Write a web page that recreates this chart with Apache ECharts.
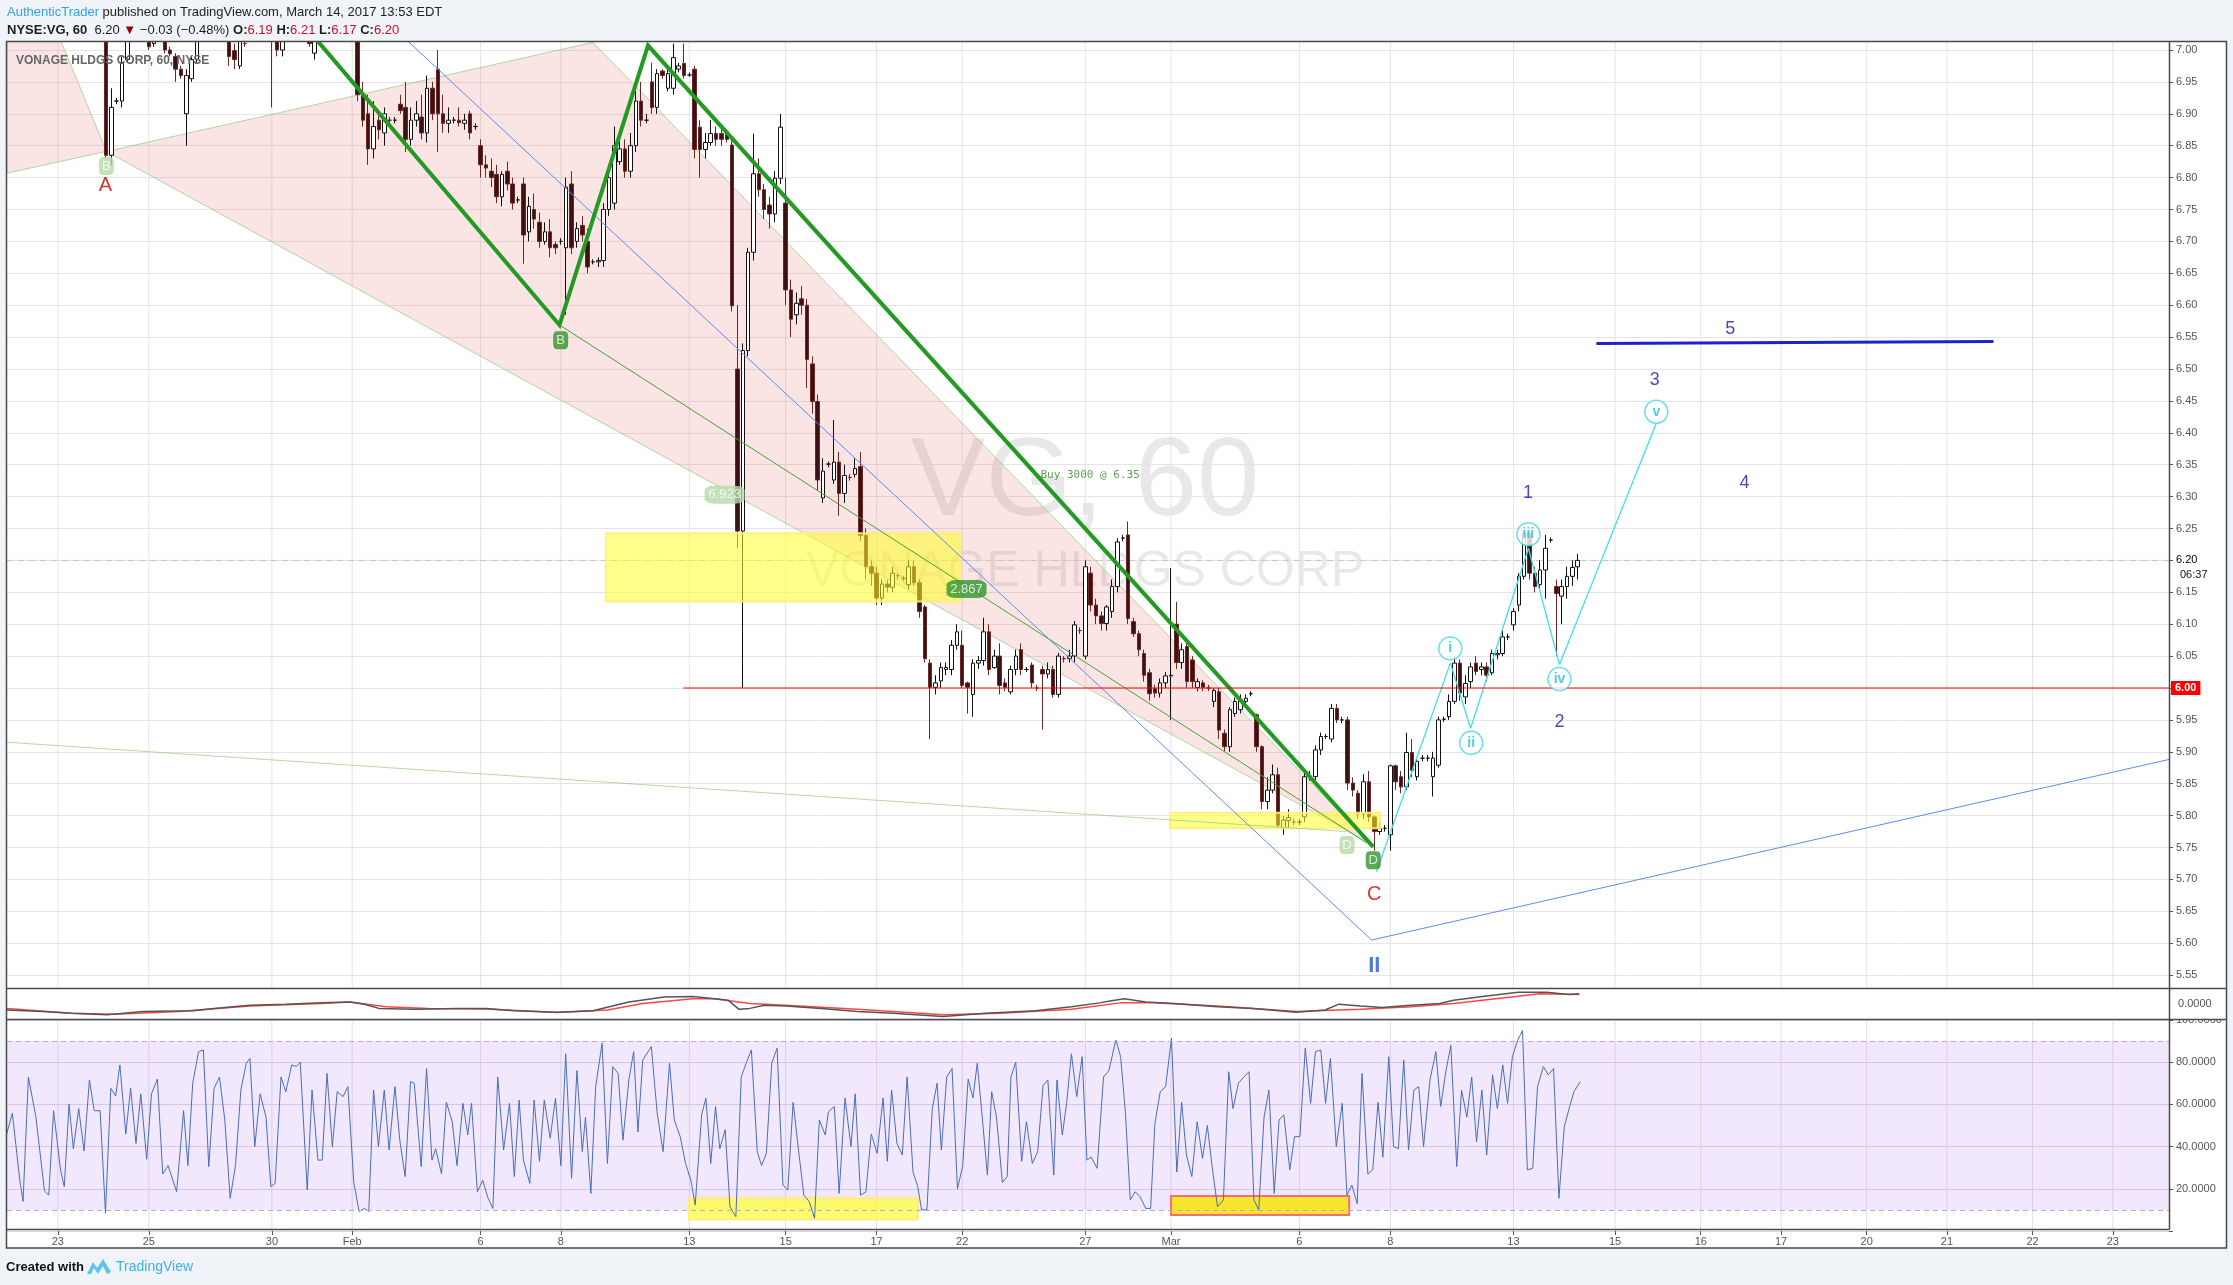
<!DOCTYPE html>
<html>
<head>
<meta charset="utf-8">
<script src="https://cdn.jsdelivr.net/npm/echarts@6/dist/echarts.min.js"></script>
<style>
  html, body { margin: 0; padding: 0; background: #f0f3f7; }
  #chart { width: 2233px; height: 1285px; }
</style>
</head>
<body>
<div id="chart"></div>
<script>
// hourly bars, 8 per session; index 0 = last bar of Jan 19
// [open, close, low, high]
const ohlc = [
  [7.08,7.09,7.06,7.11],
  // Jan 20
  [7.09,7.07,7.05,7.10],[7.07,7.10,7.06,7.12],[7.10,7.11,7.08,7.13],[7.11,7.08,7.07,7.12],
  [7.08,7.09,7.06,7.10],[7.09,7.11,7.07,7.12],[7.11,7.12,7.09,7.14],[7.12,7.10,7.08,7.15],
  // Jan 23
  [7.10,7.11,7.08,7.13],[7.11,7.09,7.07,7.12],[7.09,7.10,7.08,7.12],[7.10,7.08,7.06,7.11],
  [7.08,7.09,7.06,7.10],[7.09,7.10,7.07,7.12],[7.10,7.08,7.06,7.11],[7.08,7.09,7.06,7.10],
  // Jan 24
  [7.09,7.07,7.05,7.10],[7.07,6.835,6.83,7.08],[6.835,6.91,6.82,6.94],[6.92,6.92,6.915,6.925],
  [6.92,6.98,6.91,6.99],[6.985,7.03,6.98,7.04],[7.03,7.05,7.02,7.06],[7.05,7.06,7.03,7.08],
  // Jan 25
  [7.06,7.04,7.03,7.07],[7.04,7.005,7.00,7.05],[7.01,7.04,7.005,7.05],[7.04,7.05,7.03,7.07],
  [7.05,7.00,6.995,7.06],[7.00,6.994,6.99,7.005],[6.99,6.97,6.95,6.995],[6.97,6.96,6.955,6.975],
  // Jan 26
  [6.90,6.96,6.85,6.97],[6.955,6.985,6.95,6.99],[6.985,7.02,6.98,7.03],[7.02,7.04,7.015,7.06],
  [7.04,7.06,7.03,7.08],[7.06,7.05,7.03,7.07],[7.05,7.07,7.04,7.08],[7.07,7.04,7.03,7.08],
  // Jan 27
  [7.04,6.99,6.975,7.05],[6.999,6.985,6.97,7.01],[6.975,7.02,6.97,7.03],[7.01,7.01,7.005,7.015],
  [7.02,7.04,7.015,7.05],[7.04,7.05,7.03,7.07],[7.05,7.03,7.02,7.06],[7.03,7.05,7.025,7.06],
  // Jan 30
  [7.05,7.04,6.91,7.06],[7.04,7.00,6.99,7.045],[7.00,7.03,6.99,7.04],[7.03,7.05,7.02,7.07],
  [7.05,7.06,7.04,7.08],[7.06,7.04,7.03,7.07],[7.04,7.03,7.02,7.05],[7.03,7.01,7.005,7.04],
  // Jan 31
  [6.995,7.03,6.985,7.04],[7.03,7.05,7.02,7.06],[7.05,7.07,7.04,7.08],[7.07,7.06,7.05,7.09],
  [7.06,7.08,7.05,7.10],[7.08,7.07,7.05,7.09],[7.07,7.08,7.06,7.10],[7.08,7.07,7.05,7.09],
  // Feb 1
  [7.07,6.93,6.92,7.08],[6.93,6.89,6.88,6.95],[6.90,6.845,6.82,6.93],[6.845,6.88,6.83,6.92],
  [6.89,6.875,6.86,6.90],[6.87,6.90,6.85,6.91],[6.89,6.89,6.885,6.895],[6.89,6.89,6.885,6.895],
  // Feb 2
  [6.915,6.905,6.90,6.93],[6.91,6.86,6.84,6.95],[6.86,6.89,6.85,6.91],[6.89,6.90,6.88,6.92],
  [6.895,6.87,6.86,6.93],[6.87,6.94,6.855,6.96],[6.94,6.90,6.89,6.95],[6.97,6.90,6.84,7.00],
  // Feb 3
  [6.90,6.885,6.87,6.93],[6.885,6.89,6.87,6.91],[6.89,6.89,6.885,6.895],[6.89,6.886,6.88,6.91],
  [6.885,6.89,6.875,6.90],[6.90,6.87,6.86,6.905],[6.88,6.88,6.875,6.885],[6.85,6.82,6.80,6.86],
  // Feb 6
  [6.82,6.815,6.80,6.835],[6.81,6.80,6.785,6.83],[6.805,6.77,6.76,6.82],[6.77,6.805,6.755,6.81],
  [6.81,6.79,6.78,6.825],[6.79,6.76,6.75,6.80],[6.765,6.765,6.76,6.77],[6.79,6.71,6.665,6.80],
  // Feb 7
  [6.715,6.755,6.70,6.77],[6.75,6.735,6.72,6.775],[6.73,6.70,6.69,6.745],[6.70,6.715,6.695,6.73],
  [6.715,6.69,6.675,6.735],[6.695,6.69,6.68,6.70],[6.70,6.70,6.695,6.705],[6.69,6.785,6.585,6.80],
  // Feb 8
  [6.79,6.69,6.68,6.81],[6.70,6.72,6.69,6.73],[6.725,6.71,6.70,6.74],[6.70,6.66,6.65,6.72],
  [6.668,6.668,6.664,6.672],[6.668,6.67,6.66,6.675],[6.67,6.75,6.66,6.76],[6.75,6.80,6.74,6.81],
  // Feb 9
  [6.76,6.85,6.75,6.88],[6.825,6.845,6.82,6.87],[6.845,6.81,6.80,6.86],[6.81,6.85,6.80,6.87],
  [6.85,6.92,6.84,6.94],[6.92,6.89,6.88,6.95],[6.89,6.89,6.885,6.90],[6.95,6.91,6.90,6.98],
  // Feb 10
  [6.91,6.963,6.90,6.97],[6.967,6.96,6.955,6.97],[6.94,6.963,6.935,6.97],[6.94,6.988,6.93,7.01],
  [6.97,6.975,6.965,6.98],[6.979,6.96,6.955,7.01],[6.961,6.961,6.958,6.965],[6.97,6.844,6.83,6.975],
  // Feb 13
  [6.879,6.844,6.80,6.89],[6.844,6.855,6.83,6.87],[6.855,6.869,6.85,6.89],[6.869,6.86,6.85,6.88],
  [6.869,6.86,6.85,6.88],[6.872,6.86,6.855,6.875],[6.851,6.599,6.59,6.86],[6.50,6.246,6.22,6.60],
  // Feb 14
  [6.246,6.529,6.00,6.54],[6.529,6.683,6.52,6.69],[6.683,6.806,6.67,6.869],[6.806,6.781,6.77,6.83],
  [6.781,6.75,6.735,6.79],[6.757,6.743,6.72,6.77],[6.743,6.799,6.73,6.81],[6.799,6.879,6.79,6.90],
  // Feb 15
  [6.76,6.624,6.60,6.80],[6.624,6.578,6.55,6.64],[6.585,6.603,6.57,6.62],[6.61,6.60,6.585,6.63],
  [6.60,6.515,6.47,6.61],[6.508,6.449,6.43,6.52],[6.449,6.326,6.31,6.46],[6.298,6.34,6.29,6.36],
  // Feb 16
  [6.351,6.351,6.346,6.355],[6.326,6.354,6.32,6.42],[6.354,6.305,6.27,6.37],[6.305,6.333,6.29,6.35],
  [6.33,6.33,6.325,6.335],[6.335,6.344,6.33,6.36],[6.347,6.239,6.23,6.37],[6.239,6.19,6.17,6.25],
  // Feb 17
  [6.19,6.18,6.16,6.20],[6.18,6.141,6.13,6.19],[6.141,6.163,6.13,6.17],[6.163,6.158,6.15,6.17],
  [6.158,6.18,6.15,6.19],[6.176,6.176,6.17,6.18],[6.172,6.172,6.168,6.176],[6.162,6.19,6.155,6.20],
  // Feb 21
  [6.19,6.165,6.16,6.20],[6.165,6.12,6.11,6.17],[6.127,6.046,6.04,6.13],[6.039,6.001,5.92,6.045],
  [6.001,6.008,5.99,6.02],[6.011,6.032,6.00,6.04],[6.029,6.032,6.02,6.04],[6.029,6.067,6.02,6.075],
  // Feb 22
  [6.067,6.088,6.06,6.10],[6.067,6.004,6.00,6.09],[6.008,6.001,5.96,6.01],[5.99,6.039,5.955,6.045],
  [6.039,6.043,6.03,6.05],[6.043,6.088,6.035,6.11],[6.088,6.029,6.02,6.10],[6.032,6.05,6.03,6.06],
  // Feb 23
  [6.05,6.004,5.99,6.07],[6.008,6.001,5.995,6.015],[5.994,6.029,5.99,6.035],[6.029,6.05,6.02,6.06],
  [6.06,6.029,6.02,6.07],[6.029,6.029,6.025,6.033],[6.036,6.008,6.00,6.04],[6.0,6.0,5.995,6.005],
  // Feb 24
  [6.029,6.022,5.935,6.035],[6.022,6.029,6.015,6.04],[6.029,5.99,5.985,6.035],[5.99,6.05,5.985,6.055],
  [6.046,6.046,6.04,6.05],[6.046,6.05,6.04,6.06],[6.05,6.099,6.04,6.105],[6.09,6.09,6.085,6.095],
  // Feb 27
  [6.05,6.19,6.045,6.20],[6.18,6.13,6.12,6.19],[6.13,6.113,6.10,6.14],[6.113,6.101,6.09,6.12],
  [6.101,6.127,6.09,6.13],[6.12,6.159,6.11,6.17],[6.159,6.229,6.15,6.235],[6.235,6.235,6.23,6.24],
  // Feb 28
  [6.24,6.109,6.10,6.261],[6.104,6.085,6.08,6.11],[6.085,6.06,6.05,6.09],[6.054,6.02,6.01,6.06],
  [6.024,5.991,5.98,6.03],[5.999,5.992,5.985,6.005],[5.992,6.008,5.985,6.015],[6.008,6.019,6.0,6.025],
  // Mar 1
  [6.019,6.02,5.95,6.188],[6.10,6.04,6.03,6.135],[6.04,6.06,6.03,6.07],[6.065,6.01,6.0,6.07],
  [6.044,6.01,6.0,6.05],[6.001,6.01,5.995,6.015],[6.008,6.001,5.995,6.012],[6.0,6.0,5.995,6.005],
  // Mar 2
  [5.979,5.996,5.97,6.0],[5.994,5.934,5.92,6.0],[5.929,5.908,5.90,5.935],[5.908,5.966,5.90,5.97],
  [5.96,5.979,5.955,5.985],[5.966,5.981,5.96,5.99],[5.979,5.984,5.975,5.99],[5.991,5.991,5.987,5.995],
  // Mar 3
  [5.958,5.908,5.90,5.96],[5.908,5.822,5.81,5.91],[5.822,5.84,5.81,5.86],[5.84,5.864,5.835,5.88],
  [5.864,5.785,5.78,5.875],[5.78,5.793,5.77,5.80],[5.792,5.797,5.78,5.81],[5.79,5.79,5.785,5.795],
  // Mar 6
  [5.79,5.79,5.785,5.795],[5.798,5.861,5.79,5.87],[5.861,5.862,5.855,5.87],[5.861,5.903,5.855,5.91],
  [5.903,5.924,5.895,5.93],[5.924,5.924,5.92,5.928],[5.92,5.968,5.915,5.975],[5.968,5.95,5.945,5.975],
  // Mar 7
  [5.95,5.95,5.945,5.955],[5.95,5.851,5.84,5.955],[5.851,5.84,5.83,5.86],[5.835,5.803,5.795,5.84],
  [5.803,5.853,5.795,5.865],[5.853,5.798,5.79,5.87],[5.798,5.775,5.745,5.80],[5.775,5.78,5.77,5.79],
  // Mar 8
  [5.78,5.78,5.775,5.785],[5.77,5.878,5.745,5.88],[5.878,5.853,5.84,5.88],[5.861,5.845,5.835,5.87],
  [5.845,5.899,5.84,5.93],[5.899,5.871,5.86,5.92],[5.861,5.885,5.855,5.89],[5.89,5.89,5.885,5.895],
  // Mar 9
  [5.89,5.89,5.885,5.895],[5.861,5.89,5.83,5.90],[5.879,5.95,5.875,5.955],[5.951,5.951,5.947,5.955],
  [5.955,5.979,5.95,5.99],[5.979,6.039,5.975,6.05],[6.039,5.992,5.98,6.045],[5.986,6.007,5.975,6.02],
  // Mar 10
  [6.01,6.033,6.0,6.04],[6.039,6.026,6.02,6.05],[6.029,6.033,6.02,6.04],[6.033,6.02,6.01,6.04],
  [6.024,6.054,6.02,6.06],[6.052,6.054,6.045,6.06],[6.054,6.08,6.05,6.09],[6.08,6.08,6.075,6.085],
  // Mar 13
  [6.099,6.12,6.09,6.125],[6.13,6.175,6.12,6.18],[6.175,6.242,6.17,6.245],[6.242,6.18,6.17,6.245],
  [6.18,6.159,6.15,6.19],[6.162,6.185,6.155,6.20],[6.185,6.219,6.14,6.24],[6.232,6.232,6.228,6.236],
  // Mar 14
  [6.159,6.148,6.05,6.17],[6.144,6.159,6.10,6.17],[6.159,6.175,6.14,6.19],[6.175,6.189,6.16,6.20],
  [6.19,6.20,6.17,6.21]
];

// date axis labels [bar index, text]
const dayLabels = [[9,'23'],[26,'25'],[49,'30'],[64,'Feb'],[88,'6'],[103,'8'],[127,'13'],[145,'15'],
  [162,'17'],[178,'22'],[201,'27'],[217,'Mar'],[241,'6'],[258,'8'],[281,'13'],[300,'15'],[316,'16'],
  [331,'17'],[347,'20'],[362,'21'],[378,'22'],[393,'23']];

// TSI (25,13,13) and its signal, [bar index, value]
const tsiLine = [[-0.5,-13.4],[6.2,-16.7],[11.5,-20.1],[18.2,-23.4],[24.9,-16.7],[34.2,-14.8],[38.2,-10.1],
  [44.9,-3.4],[51.6,-1.4],[58.3,1.3],[63.6,3.3],[66.3,-1.4],[69.0,-10.1],[75.6,-12.1],[83.6,-10.1],
  [89.0,-10.1],[94.3,-14.8],[102.3,-18.1],[109.0,-14.8],[115.7,3.3],[122.3,13.3],[127.7,14.6],
  [131.7,9.9],[134.3,6.6],[136.3,-12.1],[138.3,-10.1],[141.0,-3.4],[145.0,-5.4],[151.7,-10.1],
  [158.4,-16.7],[165.0,-20.1],[174.4,-26.8],[182.4,-20.1],[191.7,-14.8],[198.4,-6.8],[203.7,1.3],
  [205.6,5.2],[208.3,9.9],[212.3,3.3],[217.6,0],[225.7,-6.8],[232.4,-10.1],[240.4,-18.1],[245.8,-13.4],
  [248.4,-1.4],[252.4,-5.4],[256.5,-8.1],[261.8,-3.4],[267.2,0],[269.8,6.6],[275.2,14.6],[281.9,23.3],
  [287.2,23.3],[291.3,18.6],[293.3,19.9]];
const tsiSignal = [[-0.5,-10.1],[11.5,-20.1],[19.5,-22.1],[31.6,-16.7],[44.9,-5.4],[58.3,0],[63.6,3.3],
  [70.3,-6.8],[78.3,-10.1],[89.0,-11.4],[102.3,-18.8],[111.7,-13.4],[118.3,0],[127.7,9.9],[131.7,9.9],
  [138.3,0],[145.0,-3.4],[158.4,-12.1],[174.4,-23.4],[185.1,-20.1],[198.4,-12.1],[207.5,1.3],
  [213.6,1.3],[225.7,-5.4],[240.4,-16.7],[252.4,-12.1],[261.8,-6.8],[269.8,0],[280.6,13.3],
  [285.9,19.9],[293.3,18.6]];

// CRSI (3,2,100), [bar index, value]
const crsi = [[-0.7,44.7],[0.5,55.8],[1.9,24],[2.5,14],[3.5,73],[4.9,54],[6.5,19],[7.3,17],[8.2,57],[9.5,29],
  [10.2,21],[11.1,60],[11.9,39],[12.9,58],[13.9,38],[14.9,71.6],[15.8,57],[16.9,57],[17.9,8.4],[18.9,67.6],
  [19.8,64],[20.6,78.7],[21.7,46],[22.6,67.6],[23.6,41.5],[24.5,65],[25.6,34],[26.5,65],[27.6,72],[28.6,27],
  [29.6,31],[31.2,18.6],[32.5,57],[33.3,31],[34.2,70],[35.3,85],[36.2,85.8],[37.2,30.5],[38.2,67.6],[39.2,73],
  [40.2,52.6],[41.2,15.5],[42.2,31],[43.2,66.8],[44.2,79.5],[44.9,81.8],[45.8,40],[46.8,65],[47.9,54],[48.8,21],
  [49.6,22.6],[50.7,73],[51.6,66],[52.7,78.7],[53.6,78],[54.3,80],[55.6,19.4],[56.5,66.8],[57.6,33.6],[58.4,33.6],
  [59.3,74.7],[60.3,40],[61.2,66],[62.3,63.7],[63.2,68.4],[64.3,23],[65.3,9.2],[66.3,10.7],[67.1,9.2],[68.0,66.8],
  [68.9,40],[70.0,66.8],[70.9,38.4],[72.0,68.4],[72.9,43],[73.9,25.8],[74.9,70.8],[75.6,70],[76.9,30.5],[77.9,77],
  [78.9,33.6],[79.6,39],[80.7,27],[81.6,61],[82.7,51.8],[83.6,31],[84.7,60.5],[85.6,45.5],[86.3,60.5],[87.4,18.6],
  [88.4,24],[89.4,15.5],[90.3,10.7],[91.2,73],[92.3,38.4],[93.4,60.5],[94.3,25.8],[95.2,62],[96.0,33.6],[97.2,22.6],
  [98.0,62],[99.0,33],[99.9,62],[101.0,44],[102.0,63],[103.0,31],[103.9,84],[105.0,25],[106.0,76],[107.0,37.6],
  [107.6,54],[108.6,17.8],[109.5,68.4],[110.7,89],[111.7,32],[112.7,77.9],[113.7,74.7],[114.6,43],[115.7,71.6],
  [116.6,85],[117.4,47],[118.3,81],[119.9,87.4],[121.0,55.8],[122.1,37.6],[123.3,79.5],[124.2,52.6],[125.3,44.7],
  [126.3,32],[127.3,24],[128.1,12.3],[129.3,55],[130.1,63],[131.0,32],[131.9,59],[132.7,39],[133.7,48],[134.6,11.5],
  [135.7,6.8],[136.7,73],[137.7,80],[138.6,85.8],[139.7,37.6],[140.5,31],[141.4,36.8],[142.4,79.5],[143.4,86.6],
  [144.5,21.8],[145.4,19.4],[146.4,61],[147.4,38.4],[148.4,17],[149.4,14],[150.4,6],[151.3,52.6],[152.4,45.5],
  [153.0,56.5],[154.1,59],[155.0,17.8],[156.1,63],[157.2,40],[158.0,65],[159.0,17],[160.0,18.6],[161.0,46],
  [162.1,36.8],[163.2,63],[164.0,33],[164.8,66.8],[165.8,41.5],[166.8,36],[167.7,73],[168.8,28],[169.7,21],
  [170.4,10],[171.4,10],[172.4,58],[173.3,70],[174.1,38.4],[175.1,73],[176.1,77],[177.1,20],[178.1,31],[179.1,72],
  [180.0,63],[180.8,79.5],[181.7,55],[182.7,26.5],[183.5,66],[184.4,54],[185.5,23],[186.4,25.8],[187.1,73],
  [188.0,80],[189.1,33],[190.0,51.8],[191.1,32],[192.1,37.6],[193.1,69],[194.0,71.6],[195.1,26.5],[195.7,71.6],
  [196.7,45.5],[197.5,60.5],[198.4,84],[199.4,63.7],[200.4,82.6],[201.3,33.6],[202.1,35],[203.2,29.7],[204.4,73],
  [205.4,76],[206.7,90.5],[207.6,82.6],[208.5,55.8],[209.4,14.7],[210.3,18.6],[211.2,16.3],[212.3,10.7],
  [213.2,10.7],[214.0,51],[215.0,66],[216.0,68.4],[217.1,91.3],[218.1,28],[219.0,61],[219.9,36],[220.9,25.8],
  [221.9,51.8],[222.9,34.4],[223.8,50],[224.7,30.5],[225.7,11.5],[226.8,14.7],[227.8,75.5],[228.6,58],[229.6,70],
  [230.6,73],[231.6,75.5],[232.5,14.7],[233.4,10],[234.4,54],[235.3,66.8],[236.3,17.8],[237.2,52.6],[238.1,55],
  [239.2,29],[240.1,44.7],[241.1,44.7],[242.1,86.6],[243.1,60.5],[244.0,85],[245.0,85.8],[245.9,60.5],[246.8,81.8],
  [247.9,40],[249.0,60.5],[249.9,17],[250.8,21.8],[251.8,13],[252.7,74.7],[253.8,27],[254.7,29],[255.7,61],
  [256.6,35],[257.7,82.6],[258.6,40],[259.5,39],[260.5,81],[261.4,38.4],[262.4,66.8],[263.3,68.4],[264.2,40],
  [265.4,71.6],[266.5,85],[267.4,59],[268.4,76],[269.3,88],[270.4,30.5],[271.3,66.8],[272.3,54],[273.2,73],
  [274.1,42.3],[275.1,66.8],[276.0,36],[277.1,74],[278.0,58],[279.0,78.7],[279.9,60.5],[280.8,82.6],[281.8,90.5],
  [282.7,95],[283.6,29],[284.6,29.7],[285.5,68.4],[286.6,77.9],[287.5,74],[288.5,77],[289.5,15.5],[290.5,49.4],
  [291.4,58],[292.3,66],[293.5,70.8]];

// drawings on the price pane, [bar index, price]
const pinkTriangles = [
  [[-0.5, 7.014], [9.6, 7.014], [18.07, 6.841], [-0.5, 6.807]],
  [[18.07, 6.841], [109.0, 7.012], [254.0, 5.758]]
];
const yellowZones = [[111.4, 177.6, 6.1355, 6.2425], [216.8, 256.1, 5.780, 5.8045]];
const greenZigzag = [[53.9, 7.05], [102.74, 6.569], [119.28, 7.007], [254.8, 5.751]];
const blueV = [[69.8, 7.05], [254.5, 5.605], [403.5, 5.888]];
const greenThin = [[102.74, 6.569], [253.6, 5.757]];
const greenFaint = [[-0.5, 5.915], [249.8, 5.775]];
const cyanWave = [[255.4, 5.712], [269.2, 6.039], [273.0, 5.937], [283.8, 6.219], [289.6, 6.037], [307.7, 6.415]];
const wave5Line = [[296.5, 6.540], [370.7, 6.543]];
const levelLine = [[125.9, 6.00], [403.5, 6.00]];
const lastPriceLine = [[-0.5, 6.20], [403.5, 6.20]];
const waveDigits = [['1', 283.7, 6.306], ['2', 289.6, 5.946], ['3', 307.4, 6.482], ['4', 324.2, 6.321], ['5', 321.5, 6.563]];
const romanWaves = [['i', 269.2, 6.062], ['ii', 273.1, 5.914], ['iii', 283.8, 6.241], ['iv', 289.6, 6.014], ['v', 307.7, 6.433]];
const redLetters = [['A', 17.9, 6.788], ['C', 255.0, 5.676]];
const badges = [['B', 18.07, 6.818, 'light'], ['D', 249.9, 5.754, 'light'], ['B', 102.96, 6.545, 'dark'],
  ['D', 254.8, 5.730, 'dark'], ['6.923', 133.6, 6.303, 'light'], ['2.867', 178.8, 6.155, 'dark']];
const crsiZones = [[126.9, 169.7, 5.5, 15.5, 'soft'], [217.0, 250.3, 7.6, 16.6, 'boxed']];

const N = 404;
const FONT = "'Liberation Sans', Arial, sans-serif";
const cats = Array.from({length: N}, (_, i) => String(i));
const labelAt = {};
dayLabels.forEach(d => { labelAt[d[0]] = d[1]; });
const showLabel = (i) => labelAt[i] !== undefined;

function vline(color) {
  return function (params, api) {
    const x = api.coord([api.value(0), api.value(1)])[0];
    const cs = params.coordSys;
    return {type: 'line', shape: {x1: x, y1: cs.y, x2: x, y2: cs.y + cs.height},
      style: {stroke: color, lineWidth: 1}};
  };
}

function lineSeries(pts, color, width, extra) {
  return Object.assign({
    type: 'line', xAxisIndex: 1, yAxisIndex: 0, data: pts, symbol: 'none', silent: true, z: 4,
    lineStyle: {color: color, width: width}
  }, extra || {});
}

function rectRender(list, styleFn) {
  return function (params, api) {
    const r = list[params.dataIndex];
    const a = api.coord([r[0], r[3]]);
    const b = api.coord([r[1], r[2]]);
    return {type: 'rect', shape: {x: a[0], y: a[1], width: b[0] - a[0], height: b[1] - a[1]},
      style: styleFn(r)};
  };
}

const chart = echarts.init(document.getElementById('chart'));

const option = {
  backgroundColor: '#f0f3f7',
  animation: false,
  grid: [
    {left: 7, top: 18.1, width: 2162, height: 988.9},
    {left: 7, top: 988, width: 2162, height: 31},
    {left: 7, top: 1020, width: 2162, height: 211}
  ],
  xAxis: [
    {type: 'category', gridIndex: 0, data: cats, show: false, boundaryGap: true},
    {type: 'value', gridIndex: 0, min: -0.5, max: N - 0.5, show: false},
    {type: 'value', gridIndex: 1, min: -0.5, max: N - 0.5, show: false},
    {type: 'value', gridIndex: 2, min: -0.5, max: N - 0.5, show: false, position: 'top'},
    {type: 'category', gridIndex: 2, data: cats, position: 'bottom', boundaryGap: true,
      axisLine: {show: false, onZero: false},
      axisTick: {show: true, interval: showLabel, alignWithLabel: true, length: 4, lineStyle: {color: '#555'}},
      axisLabel: {interval: showLabel, formatter: (v, i) => labelAt[i] || '', margin: 5,
        color: '#555', fontSize: 11, fontFamily: FONT},
      splitLine: {show: false}}
  ],
  yAxis: [
    {type: 'value', gridIndex: 0, position: 'right', min: 5.5, max: 7.05, interval: 0.05,
      axisLine: {show: true, onZero: false, lineStyle: {color: '#555'}},
      axisTick: {show: true, length: 4, lineStyle: {color: '#555'}},
      axisLabel: {margin: 7, fontSize: 11, fontFamily: FONT,
        color: v => Math.abs(v - 6.2) < 1e-6 ? '#000' : '#555',
        formatter: v => (v < 5.52 || v > 7.02) ? '' : v.toFixed(2)},
      splitLine: {lineStyle: {color: '#e4e4e4'}}},
    {type: 'value', gridIndex: 1, position: 'right', min: -32, max: 32, interval: 32, z: 9,
      axisLine: {show: false, onZero: false}, axisTick: {show: false},
      axisLabel: {margin: 9, fontSize: 11, fontFamily: FONT, color: '#555',
        formatter: v => v === 0 ? '0.0000' : ''},
      splitLine: {show: false}},
    {type: 'value', gridIndex: 2, position: 'right', min: 0, max: 100, interval: 20,
      axisLine: {show: false, onZero: false},
      axisTick: {show: true, length: 4, lineStyle: {color: '#555'}},
      axisLabel: {margin: 7, fontSize: 11, fontFamily: FONT, color: '#555',
        formatter: v => v === 0 ? '' : v.toFixed(4)},
      splitLine: {lineStyle: {color: '#ddd2e6'}}}
  ],
  series: [
    // vertical grid, price pane
    {type: 'custom', xAxisIndex: 1, yAxisIndex: 0, z: 0.5, silent: true,
      data: dayLabels.map(d => [d[0], 6.5]), renderItem: vline('#e4e4e4')},
    // pink pattern triangles
    {type: 'custom', xAxisIndex: 1, yAxisIndex: 0, z: 1, silent: true,
      data: pinkTriangles.map(t => t[0]),
      renderItem: function (params, api) {
        const pts = pinkTriangles[params.dataIndex].map(p => api.coord(p));
        return {type: 'polygon', shape: {points: pts},
          style: {fill: 'rgba(228,120,120,0.2)', stroke: 'rgba(130,195,110,0.6)', lineWidth: 1}};
      }},
    lineSeries(lastPriceLine, '#c4c4c4', 1, {z: 1.8, lineStyle: {color: '#c4c4c4', width: 1, type: [6, 5]},
      endLabel: {show: true, formatter: '06:37', color: '#111', fontSize: 11, fontFamily: FONT,
        offset: [3, 15], backgroundColor: '#fff'}}),
    {type: 'candlestick', xAxisIndex: 0, yAxisIndex: 0, z: 2, silent: true, barWidth: 4,
      data: ohlc,
      itemStyle: {color: '#ffffff', color0: '#3b1212', borderColor: '#111111', borderColor0: '#6e2626', borderWidth: 1}},
    // yellow zones
    {type: 'custom', xAxisIndex: 1, yAxisIndex: 0, z: 3, silent: true,
      data: yellowZones.map(r => [r[0], r[2]]),
      renderItem: rectRender(yellowZones, () => ({fill: 'rgba(255,255,40,0.55)', stroke: 'rgba(255,240,120,0.9)', lineWidth: 2}))},
    lineSeries(greenFaint, 'rgba(130,195,110,0.6)', 1),
    lineSeries(greenThin, '#4a9e3a', 1),
    lineSeries(blueV, '#5a8ee8', 1),
    lineSeries(greenZigzag, '#239a23', 4, {lineStyle: {color: '#239a23', width: 4, join: 'miter'}}),
    lineSeries(cyanWave, '#3fdfee', 1.3),
    lineSeries(wave5Line, '#1a22c8', 3),
    lineSeries(levelLine, '#ff0000', 1, {endLabel: {show: true, formatter: '6.00', distance: 2,
      color: '#fff', backgroundColor: '#ff0000', padding: [2, 4, 1, 4], fontSize: 11, fontWeight: 'bold', fontFamily: FONT}}),
    // wave digit labels
    {type: 'scatter', xAxisIndex: 1, yAxisIndex: 0, z: 5, silent: true, symbolSize: 0,
      data: waveDigits.map(d => ({value: [d[1], d[2]], label: {formatter: d[0]}})),
      label: {show: true, position: 'inside', color: '#1818a8', fontSize: 18, fontFamily: FONT}},
    {type: 'scatter', xAxisIndex: 1, yAxisIndex: 0, z: 5, silent: true, symbolSize: 0,
      data: [{value: [255.0, 5.564], label: {formatter: 'II'}}],
      label: {show: true, position: 'inside', color: '#1f5ad0', fontSize: 22, fontWeight: 'bold', fontFamily: FONT}},
    {type: 'scatter', xAxisIndex: 1, yAxisIndex: 0, z: 5, silent: true, symbolSize: 0,
      data: redLetters.map(d => ({value: [d[1], d[2]], label: {formatter: d[0]}})),
      label: {show: true, position: 'inside', color: '#cc0000', fontSize: 20, fontFamily: FONT}},
    {type: 'scatter', xAxisIndex: 1, yAxisIndex: 0, z: 5, silent: true, symbolSize: 0,
      data: [{value: [201.9, 6.333], label: {formatter: 'Buy 3000 @ 6.35'}}],
      label: {show: true, position: 'inside', color: '#3a8a2a', fontSize: 11, fontFamily: "'DejaVu Sans Mono', monospace"}},
    // cyan circled wave labels
    {type: 'scatter', xAxisIndex: 1, yAxisIndex: 0, z: 5, silent: true, symbol: 'circle', symbolSize: 23,
      itemStyle: {color: '#ffffff', borderColor: '#3fd6e6', borderWidth: 1.5},
      data: romanWaves.map(d => ({value: [d[1], d[2]], label: {formatter: d[0]}})),
      label: {show: true, position: 'inside', color: '#22c2d2', fontSize: 14, fontWeight: 'bold', fontFamily: FONT}},
    // pattern badges
    {type: 'scatter', xAxisIndex: 1, yAxisIndex: 0, z: 5, silent: true, symbol: 'roundRect',
      data: badges.map(d => ({value: [d[1], d[2]],
        symbolSize: [d[0].length > 1 ? 40 : 15, 18],
        itemStyle: {color: d[3] === 'light' ? '#b5dba8' : '#2f962f'},
        label: {formatter: d[0]}})),
      label: {show: true, position: 'inside', color: '#ffffff', fontSize: 13, fontFamily: FONT}},

    // TSI pane
    {type: 'line', xAxisIndex: 2, yAxisIndex: 1, z: 9, silent: true, symbol: 'none', data: tsiSignal,
      lineStyle: {color: '#ff4545', width: 1.5}},
    {type: 'line', xAxisIndex: 2, yAxisIndex: 1, z: 9, silent: true, symbol: 'none', data: tsiLine,
      lineStyle: {color: '#555555', width: 1.5},
      markLine: {silent: true, symbol: ['none', 'none'], label: {show: false},
        lineStyle: {color: '#777', type: [5, 4], width: 1}, data: [{yAxis: 0}]}},

    // CRSI pane
    {type: 'custom', xAxisIndex: 3, yAxisIndex: 2, z: 0.5, silent: true,
      data: dayLabels.map(d => [d[0], 50]), renderItem: vline('#e2dde8')},
    {type: 'line', xAxisIndex: 3, yAxisIndex: 2, z: 0.6, silent: true, symbol: 'none',
      data: [[-0.5, 50], [N - 0.5, 50]], lineStyle: {opacity: 0},
      markArea: {silent: true, itemStyle: {color: 'rgba(190,140,250,0.2)'}, data: [[{yAxis: 10}, {yAxis: 90}]]},
      markLine: {silent: true, symbol: ['none', 'none'], label: {show: false},
        lineStyle: {color: '#b9aac6', type: [5, 4], width: 1}, data: [{yAxis: 10}, {yAxis: 90}]}},
    {type: 'custom', xAxisIndex: 3, yAxisIndex: 2, z: 1.5, silent: true,
      data: crsiZones.map(r => [r[0], r[2]]),
      renderItem: rectRender(crsiZones, r => r[4] === 'boxed'
        ? {fill: '#f6e52c', stroke: '#ff6b78', lineWidth: 2}
        : {fill: 'rgba(255,255,60,0.75)', stroke: 'rgba(255,235,120,0.9)', lineWidth: 2})},
    {type: 'line', xAxisIndex: 3, yAxisIndex: 2, z: 2, silent: true, symbol: 'none', data: crsi,
      lineStyle: {color: '#4a6cb6', width: 1}}
  ],
  graphic: {elements: [
    {type: 'rect', silent: true, z: -10, shape: {x: 7, y: 41, width: 2220, height: 1207}, style: {fill: '#ffffff'}},
    {type: 'text', silent: true, z: -5, x: 1085, y: 484,
      style: {text: 'VG, 60', font: '112px ' + FONT, fill: 'rgba(0,0,0,0.09)',
        textAlign: 'center', textVerticalAlign: 'middle', align: 'center', verticalAlign: 'middle'}},
    {type: 'text', silent: true, z: -5, x: 1085, y: 572,
      style: {text: 'VONAGE HLDGS CORP', font: '50px ' + FONT, fill: 'rgba(0,0,0,0.09)',
        textAlign: 'center', textVerticalAlign: 'middle', align: 'center', verticalAlign: 'middle'}},
    {type: 'text', silent: true, z: 6, x: 16, y: 61,
      style: {text: 'VONAGE HLDGS CORP, 60, NYSE', font: 'bold 12px ' + FONT, fill: '#666666',
        textVerticalAlign: 'middle', verticalAlign: 'middle'}},
    // covers for the parts of the price grid outside its pane
    {type: 'rect', silent: true, z: 8, shape: {x: 7, y: 988, width: 2220, height: 31}, style: {fill: '#ffffff'}},
    {type: 'rect', silent: true, z: 20, shape: {x: 0, y: 0, width: 2233, height: 41.5}, style: {fill: '#f0f3f7'}},
    // frame
    {type: 'rect', silent: true, z: 22, shape: {x: 6.5, y: 41.5, width: 2220, height: 1206.5},
      style: {fill: 'none', stroke: '#4a4a4a', lineWidth: 1.5}},
    {type: 'line', silent: true, z: 22, shape: {x1: 2169.5, y1: 41.5, x2: 2169.5, y2: 1229.5}, style: {stroke: '#4a4a4a', lineWidth: 1.5}},
    {type: 'line', silent: true, z: 22, shape: {x1: 6.5, y1: 988.5, x2: 2226.5, y2: 988.5}, style: {stroke: '#4a4a4a', lineWidth: 1.5}},
    {type: 'line', silent: true, z: 22, shape: {x1: 6.5, y1: 1019.5, x2: 2226.5, y2: 1019.5}, style: {stroke: '#4a4a4a', lineWidth: 1.5}},
    {type: 'line', silent: true, z: 22, shape: {x1: 6.5, y1: 1229.5, x2: 2169.5, y2: 1229.5}, style: {stroke: '#4a4a4a', lineWidth: 1.5}},
    // header
    {type: 'text', silent: true, z: 23, x: 7, y: 12,
      style: {text: '{a|AuthenticTrader}{b| published on TradingView.com, March 14, 2017 13:53 EDT}',
        textVerticalAlign: 'middle', verticalAlign: 'middle',
        rich: {a: {fill: '#35a2dc', font: '13px ' + FONT}, b: {fill: '#222222', font: '13px ' + FONT}}}},
    {type: 'text', silent: true, z: 23, x: 7, y: 30,
      style: {text: '{b|NYSE:VG, 60}{n|  6.20 }{t|\u25BC}{n| \u22120.03 (\u22120.48%) }{b|O:}{r|6.19}{b| H:}{r|6.21}{b| L:}{r|6.17}{b| C:}{r|6.20}',
        textVerticalAlign: 'middle', verticalAlign: 'middle',
        rich: {b: {fill: '#1e1e1e', font: 'bold 13px ' + FONT}, n: {fill: '#1e1e1e', font: '13px ' + FONT},
          t: {fill: '#a00000', font: '13px ' + FONT}, r: {fill: '#c8102e', font: '13px ' + FONT}}}},
    // footer
    {type: 'text', silent: true, z: 23, x: 6, y: 1267,
      style: {text: 'Created with', font: 'bold 13px ' + FONT, fill: '#111',
        textVerticalAlign: 'middle', verticalAlign: 'middle'}},
    {type: 'polygon', silent: true, z: 23,
      shape: {points: [[87, 1274], [93, 1262], [97, 1268], [103, 1259], [111, 1272], [107, 1274], [103, 1266], [98, 1274], [94, 1268], [91, 1274]]},
      style: {fill: '#5cc3ef'}},
    {type: 'text', silent: true, z: 23, x: 116, y: 1267,
      style: {text: 'TradingView', font: '14px ' + FONT, fill: '#3bb3e6',
        textVerticalAlign: 'middle', verticalAlign: 'middle'}}
  ]}
};

chart.setOption(option);
</script>
</body>
</html>
